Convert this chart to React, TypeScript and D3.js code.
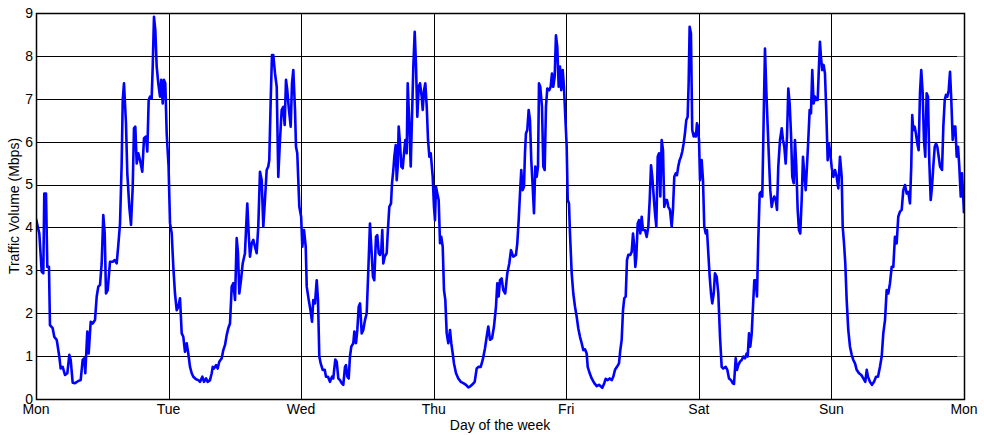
import React from "react";
import * as d3 from "d3";

// Traffic samples per day: [hour of day, Mbps]
const monday: [number, number][] = [
  [0, 4.2], [0.6, 3.86], [1.03, 2.97], [1.32, 2.93], [1.5, 4.79], [1.81, 4.79], [2.05, 3.08], [2.35, 3.08],
  [2.53, 1.72], [3.02, 1.65], [3.31, 1.45], [3.75, 1.38], [4.22, 0.99], [4.47, 0.71], [4.83, 0.75], [5.25, 0.56],
  [5.67, 0.6], [6.03, 1.03], [6.28, 0.91], [6.64, 0.38], [7.06, 0.37], [7.66, 0.42], [8.09, 0.44], [8.45, 0.91],
  [8.74, 0.95], [8.92, 0.6], [9.29, 1.57], [9.54, 1.06], [9.9, 1.8], [10.26, 1.76], [10.68, 1.84], [10.99, 2.39],
  [11.28, 2.62], [11.59, 2.66], [11.89, 3.16], [12.18, 4.29], [12.44, 3.86], [12.67, 2.46], [12.98, 2.54], [13.4, 3.2],
  [13.89, 3.2], [14.25, 3.24], [14.61, 3.16], [14.9, 3.59], [15.21, 4.09], [15.51, 5.49], [15.7, 6.97], [15.93, 7.36],
  [16.29, 6.43], [16.53, 5.26], [16.89, 4.48], [17.2, 4.06], [17.51, 4.95], [17.74, 6.31], [17.98, 6.35], [18.23, 5.49],
  [18.52, 5.73], [18.83, 5.57], [19.24, 5.3], [19.55, 6.08], [19.91, 6.12], [20.15, 5.77], [20.4, 6.97], [20.64, 7.05],
  [20.94, 7.01], [21.13, 7.75], [21.36, 8.91], [21.6, 8.6], [21.85, 7.75], [22.14, 7.36], [22.45, 7.05], [22.68, 7.44],
  [22.94, 6.89], [23.17, 7.44], [23.41, 7.36], [23.66, 6.19],
];

const tuesday: [number, number][] = [
  [0, 5.42], [0.26, 4.1], [0.57, 3.86], [0.86, 3.08], [1.16, 2.46], [1.47, 2.07], [1.76, 2.15], [2.07, 2.35],
  [2.38, 1.53], [2.67, 1.45], [2.97, 1.1], [3.28, 1.3], [3.57, 1.06], [3.88, 0.75], [4.19, 0.6], [4.48, 0.52],
  [4.97, 0.46], [5.38, 0.44], [5.69, 0.4], [6.11, 0.52], [6.41, 0.4], [6.78, 0.48], [7.08, 0.4], [7.5, 0.44],
  [7.81, 0.6], [7.99, 0.75], [8.22, 0.71], [8.59, 0.79], [8.89, 0.71], [9.18, 0.87], [9.62, 0.95], [9.91, 1.14],
  [10.22, 1.26], [10.52, 1.49], [10.81, 1.65], [11.12, 1.76], [11.43, 2.62], [11.72, 2.7], [12.03, 2.31], [12.33, 3.75],
  [12.57, 3.4], [12.8, 2.46], [13.11, 2.77], [13.42, 3.16], [13.83, 3.4], [14.02, 3.94], [14.25, 4.56], [14.5, 3.86],
  [14.74, 3.32], [15.05, 3.63], [15.34, 3.71], [15.64, 3.55], [15.95, 3.4], [16.24, 4.02], [16.55, 5.3], [16.86, 5.1],
  [17.15, 4.02], [17.45, 4.64], [17.76, 5.34], [18.05, 5.42], [18.23, 5.57], [18.49, 6.97], [18.72, 8.02], [18.96, 8.02],
  [19.27, 7.59], [19.58, 7.28], [19.86, 5.18], [20.17, 6.04], [20.48, 6.74], [20.77, 6.81], [21.02, 6.39], [21.26, 7.44],
  [21.49, 7.2], [21.74, 6.81], [22.11, 6.35], [22.34, 7.36], [22.58, 7.67], [22.89, 6.74], [23.07, 5.88], [23.3, 5.73],
  [23.67, 4.48],
];

const wednesday: [number, number][] = [
  [0, 4.25], [0.21, 3.55], [0.52, 3.94], [0.83, 3.55], [1.01, 2.62], [1.37, 2.31], [1.73, 2.04], [1.97, 1.8],
  [2.2, 2.31], [2.51, 2.23], [2.82, 2.77], [3.05, 2.31], [3.29, 0.99], [3.54, 0.83], [3.9, 0.68], [4.27, 0.68],
  [4.5, 0.52], [4.86, 0.52], [5.22, 0.4], [5.59, 0.52], [5.82, 0.48], [6.18, 0.92], [6.44, 0.87], [6.73, 0.48],
  [7.03, 0.44], [7.34, 0.37], [7.63, 0.33], [7.94, 0.75], [8.12, 0.79], [8.36, 0.52], [8.61, 0.48], [8.84, 0.99],
  [9.08, 1.22], [9.44, 1.3], [9.63, 1.57], [9.93, 1.3], [10.17, 1.61], [10.42, 2.15], [10.66, 2.23], [10.96, 1.53],
  [11.25, 1.61], [11.56, 1.84], [11.87, 2.0], [12.16, 3.0], [12.46, 4.09], [12.7, 3.55], [13.0, 2.85], [13.24, 2.77],
  [13.55, 3.78], [13.79, 3.82], [14.04, 3.4], [14.28, 3.36], [14.51, 3.47], [14.69, 3.94], [14.87, 3.16], [15.13, 3.32],
  [15.49, 3.4], [15.67, 3.86], [15.96, 4.48], [16.27, 4.56], [16.45, 5.03], [16.69, 5.34], [16.87, 5.65], [17.12, 5.92],
  [17.3, 5.1], [17.48, 5.42], [17.66, 6.35], [17.9, 5.96], [18.13, 5.42], [18.39, 5.38], [18.62, 5.73], [18.86, 6.04],
  [19.11, 5.73], [19.29, 7.36], [19.53, 6.58], [19.84, 5.42], [20.07, 6.58], [20.31, 7.75], [20.56, 8.56], [20.8, 7.75],
  [21.03, 6.58], [21.29, 7.28], [21.52, 7.36], [21.83, 7.05], [22.01, 6.74], [22.25, 7.2], [22.48, 7.36], [22.74, 6.81],
  [22.97, 6.04], [23.21, 5.65], [23.46, 5.73], [23.82, 5.18],
];

const thursday: [number, number][] = [
  [0.05, 4.48], [0.23, 4.17], [0.41, 4.95], [0.65, 4.79], [0.9, 4.64], [1.14, 3.63], [1.37, 3.78], [1.63, 3.55],
  [1.86, 2.54], [2.1, 2.31], [2.35, 1.53], [2.64, 1.3], [2.95, 1.61], [3.18, 1.3], [3.44, 1.06], [3.67, 0.83],
  [4.04, 0.6], [4.45, 0.48], [4.89, 0.4], [5.36, 0.37], [5.85, 0.33], [6.26, 0.27], [6.57, 0.29], [6.93, 0.33],
  [7.42, 0.4], [7.78, 0.71], [8.14, 0.75], [8.51, 0.75], [8.87, 0.91], [9.28, 1.18], [9.59, 1.45], [9.88, 1.69],
  [10.19, 1.38], [10.55, 1.41], [10.91, 1.69], [11.27, 2.15], [11.51, 2.7], [11.76, 2.39], [12.0, 2.77], [12.3, 2.81],
  [12.59, 2.54], [12.95, 2.46], [13.32, 2.93], [13.68, 3.16], [13.99, 3.47], [14.4, 3.32], [14.89, 3.36], [15.13, 3.63],
  [15.38, 4.17], [15.62, 4.79], [15.85, 5.34], [16.11, 4.87], [16.34, 4.95], [16.52, 5.73], [16.7, 6.19], [16.94, 6.27],
  [17.19, 6.74], [17.43, 6.5], [17.66, 5.57], [17.92, 4.95], [18.15, 4.33], [18.39, 5.42], [18.64, 5.18], [18.88, 5.42],
  [19.06, 7.36], [19.29, 7.28], [19.6, 6.81], [19.84, 5.42], [20.09, 5.34], [20.32, 6.81], [20.56, 7.24], [20.92, 7.2],
  [21.17, 7.28], [21.41, 7.59], [21.64, 7.28], [21.9, 7.51], [22.13, 8.48], [22.37, 8.21], [22.62, 7.28], [22.86, 7.75],
  [23.09, 7.2], [23.35, 7.67], [23.58, 7.28], [23.82, 6.58],
];

const friday: [number, number][] = [
  [0.07, 5.9], [0.26, 4.64], [0.49, 4.56], [0.67, 3.86], [0.98, 2.93], [1.27, 2.46], [1.58, 2.15], [1.88, 1.92],
  [2.17, 1.65], [2.48, 1.45], [2.79, 1.3], [3.08, 1.14], [3.39, 1.16], [3.69, 1.06], [3.88, 0.75], [4.24, 0.6],
  [4.6, 0.48], [5.07, 0.37], [5.51, 0.3], [5.92, 0.33], [6.28, 0.29], [6.52, 0.26], [6.88, 0.37], [7.13, 0.47],
  [7.5, 0.44], [7.86, 0.48], [8.22, 0.44], [8.51, 0.52], [8.82, 0.68], [9.18, 0.75], [9.54, 0.83], [9.78, 1.14],
  [10.03, 1.38], [10.27, 2.07], [10.5, 2.35], [10.76, 2.39], [10.99, 3.24], [11.23, 3.36], [11.59, 3.36], [11.84, 3.43],
  [12.08, 3.86], [12.31, 3.55], [12.5, 3.08], [12.68, 3.32], [12.93, 4.09], [13.17, 4.17], [13.4, 3.86], [13.65, 4.25],
  [13.89, 3.94], [14.25, 3.94], [14.56, 3.78], [14.85, 4.02], [15.1, 4.64], [15.34, 5.45], [15.57, 5.18], [15.83, 4.72],
  [16.06, 4.33], [16.3, 4.02], [16.55, 5.65], [16.79, 5.73], [17.02, 4.72], [17.27, 6.04], [17.51, 5.8], [17.74, 4.48],
  [18.0, 4.64], [18.23, 4.64], [18.47, 4.48], [18.77, 4.41], [19.08, 4.02], [19.31, 4.41], [19.55, 5.18], [19.8, 5.26],
  [20.04, 5.22], [20.27, 5.42], [20.52, 5.57], [20.76, 5.65], [21.0, 5.77], [21.25, 5.96], [21.48, 6.19], [21.72, 6.5],
  [21.97, 6.58], [22.15, 7.36], [22.33, 8.68], [22.57, 8.52], [22.8, 6.27], [23.06, 6.12], [23.29, 6.19], [23.47, 6.12],
  [23.65, 6.43], [23.83, 6.35],
];

const saturday: [number, number][] = [
  [0.03, 6.04], [0.21, 5.1], [0.51, 5.57], [0.75, 5.1], [0.98, 4.02], [1.24, 3.86], [1.47, 3.94], [1.71, 3.4],
  [1.96, 2.85], [2.2, 2.46], [2.43, 2.23], [2.69, 2.46], [2.92, 2.93], [3.23, 2.85], [3.52, 2.46], [3.83, 1.45],
  [4.13, 0.75], [4.42, 0.71], [4.86, 0.75], [5.15, 0.68], [5.46, 0.48], [5.82, 0.44], [6.13, 0.37], [6.36, 0.35],
  [6.67, 0.95], [6.9, 0.68], [7.14, 0.79], [7.45, 0.87], [7.76, 0.91], [8.05, 0.99], [8.35, 0.95], [8.66, 1.06],
  [8.84, 0.99], [9.08, 1.53], [9.31, 1.22], [9.57, 1.53], [9.8, 2.15], [10.04, 2.77], [10.29, 2.77], [10.52, 2.39],
  [10.76, 3.71], [11.01, 4.79], [11.25, 4.83], [11.48, 4.72], [11.74, 6.58], [11.97, 8.17], [12.21, 7.2], [12.46, 6.35],
  [12.7, 5.57], [12.93, 4.87], [13.19, 4.48], [13.42, 4.64], [13.66, 4.72], [13.91, 4.64], [14.15, 4.41], [14.38, 5.42],
  [14.69, 6.04], [15.0, 6.31], [15.23, 6.04], [15.47, 5.88], [15.72, 5.49], [15.96, 6.12], [16.19, 7.24], [16.44, 6.89],
  [16.68, 6.19], [16.91, 5.18], [17.17, 5.03], [17.4, 6.04], [17.64, 5.42], [17.89, 4.41], [18.12, 3.94], [18.36, 3.86],
  [18.61, 4.64], [18.85, 5.65], [19.08, 5.26], [19.34, 4.87], [19.57, 5.42], [19.81, 6.04], [20.06, 6.74], [20.3, 6.66],
  [20.53, 7.67], [20.78, 6.89], [21.02, 7.05], [21.25, 6.97], [21.51, 6.97], [21.74, 7.75], [21.92, 8.33], [22.1, 7.98],
  [22.34, 7.67], [22.59, 7.79], [22.83, 7.59], [23.06, 6.74], [23.32, 5.57], [23.55, 5.96], [23.79, 5.73],
];

const sunday: [number, number][] = [
  [0.05, 5.4], [0.34, 5.18], [0.65, 5.34], [0.95, 5.18], [1.24, 4.91], [1.55, 5.65], [1.86, 5.18], [2.04, 4.02],
  [2.28, 3.63], [2.51, 3.16], [2.76, 2.31], [3.05, 1.61], [3.36, 1.22], [3.67, 1.03], [3.96, 0.91], [4.27, 0.83],
  [4.57, 0.68], [4.99, 0.6], [5.41, 0.56], [5.77, 0.48], [6.13, 0.4], [6.39, 0.68], [6.62, 0.52], [6.98, 0.4],
  [7.34, 0.33], [7.71, 0.4], [8.07, 0.52], [8.43, 0.52], [8.79, 0.75], [9.1, 0.99], [9.39, 1.53], [9.7, 1.84],
  [10.0, 2.54], [10.29, 2.46], [10.6, 2.7], [10.91, 3.08], [11.2, 3.08], [11.5, 3.78], [11.81, 3.63], [12.1, 4.25],
  [12.41, 4.37], [12.72, 4.41], [13.01, 4.87], [13.32, 4.99], [13.62, 4.79], [13.91, 4.83], [14.22, 4.56], [14.45, 5.42],
  [14.63, 6.62], [14.81, 6.27], [15.07, 6.35], [15.3, 6.19], [15.54, 5.96], [15.79, 5.8], [16.03, 7.13], [16.26, 7.67],
  [16.52, 7.13], [16.75, 6.04], [16.99, 5.65], [17.24, 7.13], [17.48, 7.05], [17.71, 5.57], [17.97, 4.64], [18.21, 4.95],
  [18.44, 5.42], [18.7, 5.88], [18.93, 5.96], [19.17, 5.88], [19.42, 5.65], [19.66, 5.42], [20.02, 5.34], [20.26, 6.35],
  [20.51, 6.97], [20.74, 7.09], [20.98, 7.05], [21.23, 7.2], [21.47, 7.63], [21.7, 6.97], [21.96, 6.04], [22.19, 6.35],
  [22.43, 6.35], [22.68, 5.65], [22.92, 5.88], [23.15, 5.42], [23.41, 4.72], [23.64, 5.26], [23.88, 4.64], [24, 4.33],
];

const dayLabels = ["Mon", "Tue", "Wed", "Thu", "Fri", "Sat", "Sun", "Mon"];
const yTicks = [0, 1, 2, 3, 4, 5, 6, 7, 8, 9];

const days = [monday, tuesday, wednesday, thursday, friday, saturday, sunday];

const W = 984;
const H = 435;
const left = 36;
const right = 964;
const top = 13;
const bottom = 399;
const font = "Liberation Sans, Arial, Helvetica, sans-serif";

export default function App() {
  // Flatten daily samples onto a continuous hour-of-week axis
  const series: [number, number][] = days.flatMap((d, i) =>
    d.map(([h, v]) => [i * 24 + h, v] as [number, number])
  );

  const x = d3.scaleLinear().domain([0, 168]).range([left, right]);
  const y = d3.scaleLinear().domain([0, 9]).range([bottom, top]);

  const line = d3
    .line<[number, number]>()
    .x((d) => x(d[0]))
    .y((d) => y(d[1]))
    .curve(d3.curveLinear);

  const dayTicks = dayLabels.map((_, i) => i * 24);

  return (
    <svg
      width={W}
      height={H}
      style={{ position: "absolute", left: 0, top: 0, background: "#fff" }}
      fontFamily={font}
    >
      <defs>
        <clipPath id="plotArea">
          <rect x={left} y={top - 2} width={right - left} height={bottom - top + 2} />
        </clipPath>
      </defs>
      <rect x={0} y={0} width={W} height={H} fill="#fff" />

      {/* horizontal grid */}
      {yTicks.map((t) => (
        <line
          key={"gy" + t}
          x1={left}
          x2={right}
          y1={Math.round(y(t)) + 0.5}
          y2={Math.round(y(t)) + 0.5}
          stroke="#000"
          strokeWidth={1}
        />
      ))}
      {/* vertical grid */}
      {dayTicks.map((t, i) => (
        <line
          key={"gx" + i}
          x1={Math.round(x(t)) + 0.5}
          x2={Math.round(x(t)) + 0.5}
          y1={top}
          y2={bottom}
          stroke="#000"
          strokeWidth={1}
        />
      ))}
      {/* right-side tick marks */}
      {yTicks.map((t) => (
        <line
          key={"ty" + t}
          x1={right - 7}
          x2={right}
          y1={Math.round(y(t)) + 0.5}
          y2={Math.round(y(t)) + 0.5}
          stroke="#888"
          strokeWidth={1}
        />
      ))}

      {/* traffic trace */}
      <path
        d={line(series) ?? ""}
        fill="none"
        stroke="#0000ff"
        strokeWidth={2.6}
        strokeLinejoin="round"
        clipPath="url(#plotArea)"
      />

      {/* frame */}
      <rect
        x={left + 0.5}
        y={top + 0.5}
        width={right - left}
        height={bottom - top}
        fill="none"
        stroke="#000"
        strokeWidth={1.5}
      />

      {/* y tick labels */}
      {yTicks.map((t) => (
        <text
          key={"ly" + t}
          x={left - 3}
          y={y(t)}
          dy="0.35em"
          textAnchor="end"
          fontSize={14}
          fill="#000"
        >
          {t}
        </text>
      ))}
      {/* x tick labels */}
      {dayTicks.map((t, i) => (
        <text
          key={"lx" + i}
          x={x(t)}
          y={414}
          textAnchor="middle"
          fontSize={14}
          fill="#000"
        >
          {dayLabels[i]}
        </text>
      ))}

      <text x={500} y={430} textAnchor="middle" fontSize={14} fill="#000">
        Day of the week
      </text>
      <text
        transform={`translate(19,${(top + bottom) / 2}) rotate(-90)`}
        textAnchor="middle"
        fontSize={14}
        fill="#000"
      >
        Traffic Volume (Mbps)
      </text>
    </svg>
  );
}
